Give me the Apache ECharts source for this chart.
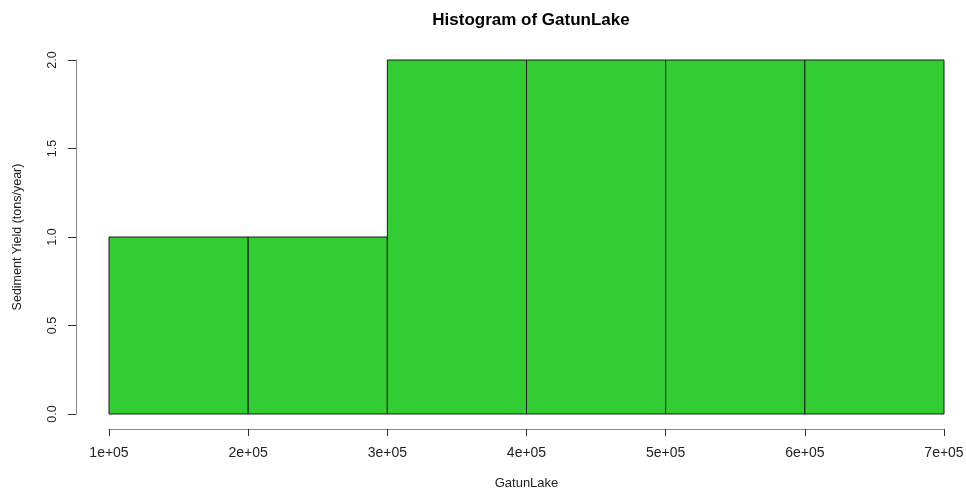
<!DOCTYPE html>
<html>
<head>
<meta charset="utf-8">
<script src="https://cdn.jsdelivr.net/npm/echarts@6/dist/echarts.min.js"></script>
<style>
  html, body { margin: 0; padding: 0; background: #fff; }
  #chart { width: 966px; height: 491px; }
</style>
</head>
<body>
<div id="chart"></div>
<script>
// Histogram bins (left and right edges) and their counts
const binStarts = [100000, 200000, 300000, 400000, 500000, 600000];
const binEnds   = [200000, 300000, 400000, 500000, 600000, 700000];
const counts    = [1, 1, 2, 2, 2, 2];

const xTickLabels = ['1e+05', '2e+05', '3e+05', '4e+05', '5e+05', '6e+05', '7e+05'];
const yTickLabels = ['0.0', '0.5', '1.0', '1.5', '2.0'];

const data = binStarts.map((s, i) => [s, binEnds[i], counts[i]]);

const chart = echarts.init(document.getElementById('chart'));
const font = 'Liberation Sans, Arial, sans-serif';

chart.setOption({
  animation: false,
  backgroundColor: '#ffffff',
  title: {
    text: 'Histogram of GatunLake',
    left: 526,
    textAlign: 'center',
    top: 7,
    textStyle: { fontFamily: font, fontSize: 17, fontWeight: 'bold', color: '#000' }
  },
  grid: { left: 109, right: 22, top: 60, bottom: 77, containLabel: false, outerBoundsMode: 'none' },
  xAxis: {
    type: 'value',
    min: 100000,
    max: 700000,
    interval: 100000,
    offset: 15,
    name: 'GatunLake',
    nameLocation: 'middle',
    nameGap: 48,
    nameTextStyle: { fontFamily: font, fontSize: 13, color: '#222' },
    axisLine: { show: true, onZero: false, lineStyle: { color: '#888', width: 1 } },
    axisTick: { show: true, length: 7, lineStyle: { color: '#333' } },
    splitLine: { show: false },
    axisLabel: {
      margin: 17,
      fontFamily: font, fontSize: 14, color: '#222',
      formatter: v => xTickLabels[Math.round((v - 100000) / 100000)]
    }
  },
  yAxis: {
    type: 'value',
    min: 0,
    max: 2,
    interval: 0.5,
    offset: 33,
    name: 'Sediment Yield (tons/year)',
    nameLocation: 'middle',
    nameRotate: 90,
    nameGap: 52,
    nameTextStyle: { fontFamily: font, fontSize: 12.5, color: '#222' },
    axisLine: { show: true, onZero: false, lineStyle: { color: '#888', width: 1 } },
    axisTick: { show: true, length: 8, lineStyle: { color: '#333' } },
    splitLine: { show: false },
    axisLabel: {
      rotate: 90,
      margin: 17,
      fontFamily: font, fontSize: 12.5, color: '#222',
      formatter: v => yTickLabels[Math.round(v / 0.5)]
    }
  },
  series: [{
    type: 'custom',
    data: data,
    encode: { x: [0, 1], y: 2 },
    renderItem: function (params, api) {
      const p0 = api.coord([api.value(0), 0]);
      const p1 = api.coord([api.value(1), api.value(2)]);
      return {
        type: 'rect',
        shape: { x: p0[0], y: p1[1], width: p1[0] - p0[0], height: p0[1] - p1[1] },
        style: { fill: '#32CD32', stroke: '#1a1a1a', lineWidth: 1 }
      };
    }
  }]
});
</script>
</body>
</html>
